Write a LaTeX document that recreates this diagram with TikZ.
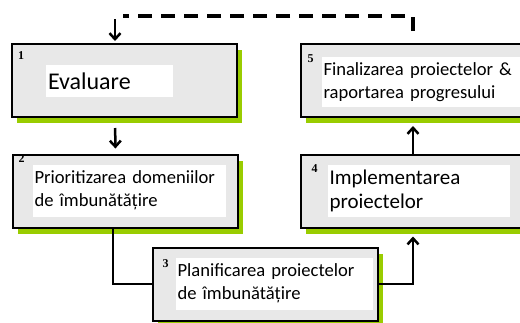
\documentclass[tikz,border=0pt]{standalone}
\usepackage{fontspec}
\setmainfont{Carlito}
\newfontfamily\numfont{Liberation Serif}
\usetikzlibrary{arrows.meta,shadows}
\definecolor{leaf}{HTML}{99CC00}
\definecolor{pale}{HTML}{E8E8E8}

\begin{document}
\begin{tikzpicture}
[x=1pt, y=-1pt, line width=2pt, >={Straight Barb[length=6pt,width=11pt]}]
\tikzstyle{stage}=[draw, fill=pale, minimum width=225pt, minimum height=73pt, drop shadow={fill=leaf, opacity=1, shadow xshift=5pt, shadow yshift=-6pt}]
\tikzstyle{txt}=[fill=white, anchor=north west, inner sep=2pt, align=left, font=\fontsize{18.6}{23}\selectfont]
\tikzstyle{num}=[inner sep=0pt, font=\numfont\bfseries\fontsize{12}{12}\selectfont]
\tikzstyle{link}=[line width=2.5pt]
\useasboundingbox (0,0) rectangle (520,322);
\node[stage] (s1) at (124.5,80.5) {};
\node[stage] (s2) at (125,191) {};
\node[stage] (s3) at (265,284) {};
\node[stage] (s4) at (413,191) {};
\node[stage] (s5) at (413,80.5) {};
\node[txt, text width=123pt, minimum height=32pt, font=\fontsize{24}{28}\selectfont] (t1) at ([shift={(34,21)}]s1.north west) {Evaluare};
\node[txt, text width=189pt, minimum height=52pt] (t2) at ([shift={(20,10)}]s2.north west) {Prioritizarea domeniilor\\de îmbunătățire};
\node[txt, text width=193pt, minimum height=52pt] (t3) at ([shift={(23,10)}]s3.north west) {Planificarea proiectelor\\de îmbunătățire};
\node[txt, text width=178pt, minimum height=52pt, font=\fontsize{21}{24}\selectfont] (t4) at ([shift={(27,10)}]s4.north west) {Implementarea\\proiectelor};
\node[txt, text width=194pt, minimum height=50pt] (t5) at ([shift={(21,13)}]s5.north west) {Finalizarea proiectelor \&\\raportarea progresului};
\node[num] (n1) at ([shift={(10,13)}]s1.north west) {1};
\node[num] (n2) at ([shift={(10,5)}]s2.north west) {2};
\node[num] (n3) at ([shift={(14,17)}]s3.north west) {3};
\node[num] (n4) at ([shift={(15,15)}]s4.north west) {4};
\node[num] (n5) at ([shift={(11,16)}]s5.north west) {5};
\coordinate (turn) at (115,16);
\draw[link, ->, shorten <=10pt, shorten >=5pt] ([xshift=-9.5pt]s1.south) -- ([xshift=-9.5pt]s2.north);
\draw[link] ([xshift=-12pt]s2.south) |- (s3.west);
\draw[link, ->, shorten >=8pt] (s3.east) -| (s4.south);
\draw[link, ->, shorten >=8pt] (s4.north) -- (s5.south);
\draw[line width=4pt, dash pattern=on 14pt off 9pt] ([yshift=12pt]s5.north) |- ([xshift=8pt]turn);
\draw[link, ->, shorten <=3pt, shorten >=2pt] (turn) -- ([xshift=-9.5pt]s1.north);
\end{tikzpicture}
\end{document}
